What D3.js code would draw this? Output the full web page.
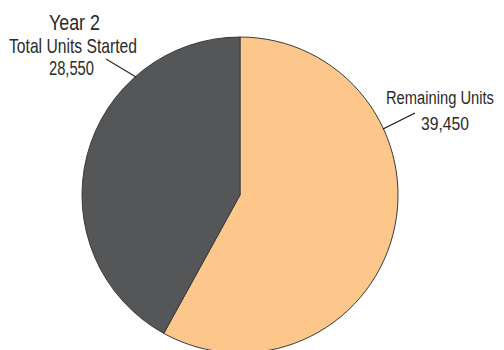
<!DOCTYPE html>
<html><head><meta charset="utf-8">
<script src="https://cdn.jsdelivr.net/npm/d3@7"></script>
<style>body{margin:0;background:#fff}svg{display:block}</style>
</head><body>
<svg id="c" width="504" height="350"></svg>
<script>
const categories = ["Remaining Units", "Total Units Started"];
const values = [39450, 28550];
const colors = ["#fdc68b", "#545658"];
const titleLabel = "Year 2";

const svg = d3.select("#c");
const cx = 240, cy = 195, r = 158;
const pie = d3.pie().sort(null).value(d => d)(values);
const arc = d3.arc().innerRadius(0).outerRadius(r);
const g = svg.append("g").attr("transform", `translate(${cx},${cy})`);
g.selectAll("path").data(pie).join("path")
  .attr("d", arc)
  .attr("fill", (d, i) => colors[i])
  .attr("stroke", "#3a3a3a")
  .attr("stroke-width", 1);

const font = "'Liberation Sans', Arial, sans-serif";
const fmt = d3.format(",");

// Condensed label: natural text squeezed horizontally to the target width
function label(x, y, size, len, txt) {
  const grp = svg.append("g");
  const t = grp.append("text").attr("x", 0).attr("y", 0)
    .attr("fill", "#2a2a2a")
    .style("font-family", font).style("font-size", size + "px")
    .text(txt);
  const w = t.node().getComputedTextLength();
  grp.attr("transform", `translate(${x},${y}) scale(${len / w},1)`);
}

// Left label (Total Units Started)
svg.append("line").attr("x1", 106).attr("y1", 59).attr("x2", 136).attr("y2", 77)
  .attr("stroke", "#3d2626").attr("stroke-width", 1.2);
label(49, 30, 22, 51, titleLabel);
label(9, 52.5, 20, 128, categories[1]);
label(49, 75, 20, 45, fmt(values[1]));

// Right label (Remaining Units)
svg.append("line").attr("x1", 415).attr("y1", 113).attr("x2", 383).attr("y2", 129)
  .attr("stroke", "#111").attr("stroke-width", 1.2);
label(386, 104, 19, 108, categories[0]);
label(421, 129.5, 19, 48, fmt(values[0]));
</script>
</body></html>
